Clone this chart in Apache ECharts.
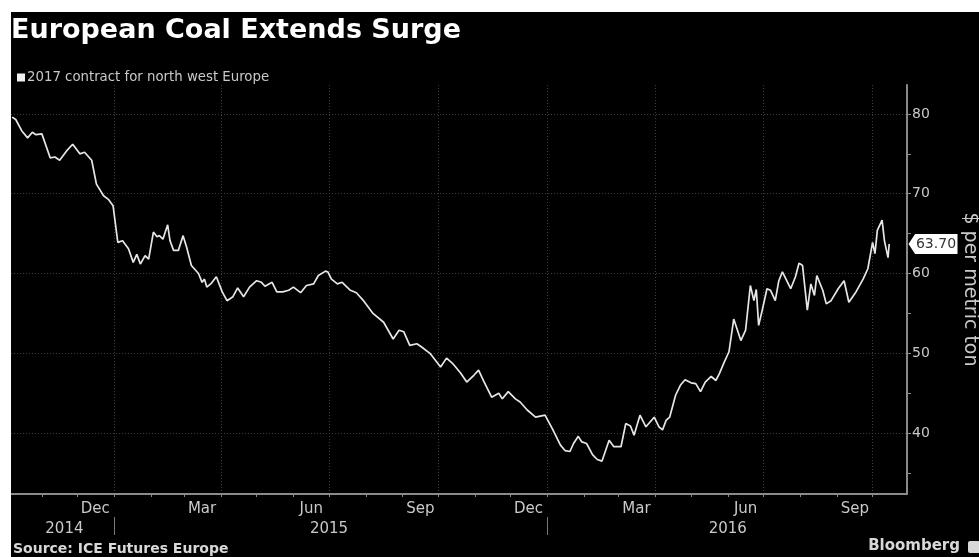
<!DOCTYPE html>
<html>
<head>
<meta charset="utf-8">
<script src="https://cdn.jsdelivr.net/npm/echarts@6/dist/echarts.min.js"></script>
<style>
html,body{margin:0;padding:0;background:#fff;}
#chart{width:979px;height:557px;}
</style>
</head>
<body>
<div id="chart"></div>
<script>
// ---------- DATA ----------
const seriesName = '2017 contract for north west Europe';
const dates = [
'2014-10-07','2014-10-10','2014-10-15','2014-10-20','2014-10-24','2014-10-27','2014-11-01','2014-11-08','2014-11-12','2014-11-16','2014-11-22','2014-11-27','2014-12-03','2014-12-07','2014-12-13','2014-12-17','2014-12-23','2014-12-27','2014-12-31',
'2015-01-04','2015-01-08','2015-01-13','2015-01-17','2015-01-20','2015-01-23','2015-01-27','2015-01-30',
'2015-02-03','2015-02-06','2015-02-08','2015-02-11','2015-02-15','2015-02-17','2015-02-20','2015-02-24','2015-02-28',
'2015-03-03','2015-03-07','2015-03-13','2015-03-16','2015-03-18','2015-03-20','2015-03-24','2015-03-28',
'2015-04-02','2015-04-06','2015-04-11','2015-04-15','2015-04-20','2015-04-25',
'2015-05-01','2015-05-05','2015-05-08','2015-05-14','2015-05-18','2015-05-23','2015-05-28',
'2015-06-01','2015-06-07','2015-06-12','2015-06-18','2015-06-22','2015-06-28','2015-06-30',
'2015-07-03','2015-07-08','2015-07-12','2015-07-19','2015-07-24','2015-07-30',
'2015-08-03','2015-08-07','2015-08-16','2015-08-24','2015-08-29',
'2015-09-02','2015-09-07','2015-09-13','2015-09-17','2015-09-24',
'2015-10-03','2015-10-08','2015-10-13','2015-10-20','2015-10-25','2015-10-31',
'2015-11-04','2015-11-08','2015-11-15','2015-11-21','2015-11-24','2015-11-29',
'2015-12-05','2015-12-09','2015-12-15','2015-12-22','2015-12-30',
'2016-01-05','2016-01-12','2016-01-16','2016-01-20','2016-01-23','2016-01-27','2016-01-30',
'2016-02-03','2016-02-08','2016-02-12','2016-02-16','2016-02-22','2016-02-26',
'2016-03-03','2016-03-07','2016-03-11','2016-03-14','2016-03-19','2016-03-24','2016-03-31',
'2016-04-04','2016-04-07','2016-04-10','2016-04-13','2016-04-18','2016-04-22','2016-04-26',
'2016-05-01','2016-05-05','2016-05-09','2016-05-13','2016-05-18','2016-05-22','2016-05-25','2016-05-29',
'2016-06-02','2016-06-06','2016-06-12','2016-06-16','2016-06-20','2016-06-23','2016-06-25','2016-06-27','2016-06-30',
'2016-07-04','2016-07-07','2016-07-11','2016-07-14','2016-07-17','2016-07-24','2016-07-28','2016-07-31',
'2016-08-03','2016-08-07','2016-08-10','2016-08-13','2016-08-15','2016-08-20','2016-08-23','2016-08-27',
'2016-09-02','2016-09-07','2016-09-11','2016-09-17','2016-09-23','2016-09-27',
'2016-10-01','2016-10-03','2016-10-05','2016-10-09','2016-10-11','2016-10-14','2016-10-15'
];
const prices = [
79.6,79.3,77.9,77.0,77.7,77.4,77.5,74.5,74.6,74.2,75.4,76.2,75.0,75.2,74.2,71.2,69.75,69.3,68.5,
63.9,64.1,63.1,61.4,62.4,61.2,62.25,61.8,
65.2,64.6,64.75,64.3,66.1,64.1,62.9,62.9,64.75,
63.3,61.0,60.0,58.9,59.3,58.3,58.8,59.6,
57.7,56.6,57.1,58.2,57.1,58.3,
59.1,58.9,58.4,58.9,57.7,57.7,57.9,
58.3,57.6,58.5,58.7,59.75,60.3,60.2,
59.3,58.7,58.9,57.9,57.6,56.6,
55.8,55.0,53.9,51.8,52.9,
52.7,51.0,51.2,50.8,50.0,
48.3,49.4,48.75,47.5,46.4,47.25,
47.9,46.6,44.5,45.0,44.3,45.2,
44.3,43.9,42.9,42.0,42.25,
40.6,38.5,37.8,37.7,38.7,39.6,38.9,
38.7,37.3,36.7,36.5,39.1,38.3,
38.3,41.2,40.9,39.75,42.25,40.8,42.0,
40.8,40.4,41.6,42.0,44.75,46.0,46.7,
46.3,46.2,45.2,46.4,47.1,46.6,47.5,48.9,
50.2,54.3,51.6,52.9,58.5,56.6,58.0,53.5,55.4,
58.1,57.9,56.6,59.1,60.2,58.1,59.6,61.3,
61.0,55.4,58.7,57.25,59.75,57.9,56.2,56.6,
58.1,59.1,56.4,57.7,59.3,60.6,
63.9,62.5,65.4,66.7,64.1,62.0,63.70
];
const lastPriceText = '63.70';

// axis range and ticks
const xMin = '2014-10-06';
const xMax = '2016-10-30';
const yMin = 32.375;
const yMax = 83.625;
const yLabelValues = [40, 50, 60, 70, 80];
const yTickValues = [35, 40, 45, 50, 55, 60, 65, 70, 75, 80];
const monthTickDates = ['2014-11-01','2014-12-01','2015-01-01','2015-02-01','2015-03-01','2015-04-01','2015-05-01','2015-06-01','2015-07-01','2015-08-01','2015-09-01','2015-10-01','2015-11-01','2015-12-01','2016-01-01','2016-02-01','2016-03-01','2016-04-01','2016-05-01','2016-06-01','2016-07-01','2016-08-01','2016-09-01','2016-10-01'];
const quarterGridDates = ['2015-01-01','2015-04-01','2015-07-01','2015-10-01','2016-01-01','2016-04-01','2016-07-01','2016-10-01'];
const monthLabelDates = ['2014-12-16','2015-03-16','2015-06-16','2015-09-16','2015-12-16','2016-03-16','2016-06-16','2016-09-16'];
const monthLabelTexts = ['Dec','Mar','Jun','Sep','Dec','Mar','Jun','Sep'];
const yearLabelDates = ['2014-11-20','2015-07-01','2016-06-01'];
const yearLabelTexts = ['2014','2015','2016'];
const yearSeparatorDates = ['2015-01-01','2016-01-01'];

const titleText = 'European Coal Extends Surge';
const yAxisTitle = '$ per metric ton';
const sourceText = 'Source: ICE Futures Europe';
const brandText = 'Bloomberg';

// ---------- CHART ----------
const FONT = 'DejaVu Sans';
const LABEL = '#c9c9c9';
const chart = echarts.init(document.getElementById('chart'), null, {renderer: 'canvas'});

const T = d => +echarts.time.parse(d);   // date string -> timestamp for the value scale
function lookup(datesArr, texts) {
  const ts = datesArr.map(T);
  return function (v) {
    let best = -1, bd = Infinity;
    ts.forEach((t, i) => { const dd = Math.abs(t - v); if (dd < bd) { bd = dd; best = i; } });
    return bd < 86400000 ? texts[best] : '';
  };
}

const seriesData = dates.map((d, i) => [T(d), prices[i]]);
const grid = {left: 11, right: 72, top: 85, bottom: 63, containLabel: false, outerBoundsMode: 'none'};
const xBase = {type: 'value', min: T(xMin), max: T(xMax), position: 'bottom', scale: true};

chart.setOption({
  animation: false,
  backgroundColor: '#000',
  title: {
    text: titleText, left: 11, top: 17, padding: 0,
    textStyle: {color: '#fff', fontFamily: FONT, fontWeight: 'bold', fontSize: 27}
  },
  legend: {
    data: [seriesName], left: 17, top: 71, padding: 0,
    icon: 'rect', itemWidth: 8, itemHeight: 8, itemGap: 0,
    textStyle: {color: LABEL, fontFamily: FONT, fontSize: 13.3, padding: [0, 0, 0, -3]}
  },
  grid: grid,
  xAxis: [
    Object.assign({}, xBase, {
      axisLine: {show: true, onZero: false, lineStyle: {color: '#8a8a8a', width: 2}},
      axisTick: {show: true, customValues: monthTickDates.map(T), length: 3, lineStyle: {color: '#8a8a8a'}},
      axisLabel: {show: true, customValues: monthLabelDates.map(T), formatter: lookup(monthLabelDates, monthLabelTexts),
        color: LABEL, fontFamily: FONT, fontSize: 15, margin: 8},
      splitLine: {show: false}
    }),
    Object.assign({}, xBase, {
      axisLine: {show: false, onZero: false}, axisLabel: {show: false},
      axisTick: {show: false, customValues: quarterGridDates.map(T)},
      splitLine: {show: true, lineStyle: {color: '#3a3a3a', type: [1, 2], width: 1}}
    }),
    Object.assign({}, xBase, {
      offset: 23,
      axisLine: {show: false, onZero: false},
      axisTick: {show: true, customValues: yearSeparatorDates.map(T), length: 18, lineStyle: {color: '#777'}},
      axisLabel: {show: true, customValues: yearLabelDates.map(T), formatter: lookup(yearLabelDates, yearLabelTexts),
        color: LABEL, fontFamily: FONT, fontSize: 15, margin: 5},
      splitLine: {show: false}
    })
  ],
  yAxis: [
    {
      type: 'value', position: 'right', min: yMin, max: yMax,
      name: yAxisTitle, nameLocation: 'middle', nameRotate: -90, nameGap: 53,
      nameTextStyle: {color: LABEL, fontFamily: FONT, fontSize: 19},
      axisLine: {show: true, onZero: false, lineStyle: {color: '#8a8a8a', width: 2}},
      axisTick: {show: true, customValues: yTickValues, inside: false, length: 4, lineStyle: {color: '#8a8a8a'}},
      axisLabel: {show: true, customValues: yLabelValues, color: LABEL, fontFamily: FONT, fontSize: 14, margin: 5},
      splitLine: {show: false}
    },
    {
      type: 'value', position: 'right', min: yMin, max: yMax,
      axisLine: {show: false, onZero: false}, axisLabel: {show: false},
      axisTick: {show: false, customValues: yLabelValues},
      splitLine: {show: true, lineStyle: {color: '#3a3a3a', type: [1, 2], width: 1}}
    }
  ],
  series: [{
    name: seriesName, type: 'line', xAxisIndex: 0, yAxisIndex: 0,
    data: seriesData, showSymbol: false, smooth: false,
    color: '#f0f0f0',
    lineStyle: {color: '#e6e6e6', width: 1.7},
    markPoint: {
      silent: true,
      symbol: 'path://M0,10 L7,0 L52,0 L52,20 L7,20 Z',
      symbolSize: [49, 20], symbolOffset: [26, 0],
      itemStyle: {color: '#fff'},
      label: {show: true, position: 'inside', formatter: lastPriceText, color: '#333', fontFamily: FONT, fontSize: 14, offset: [3, 0]},
      data: [{coord: [T(xMax), prices[prices.length - 1]]}]
    }
  }],
  graphic: [
    {type: 'rect', left: 0, top: 0, shape: {width: 979, height: 12}, style: {fill: '#fff'}, z: 100},
    {type: 'rect', left: 0, top: 0, shape: {width: 11, height: 557}, style: {fill: '#fff'}, z: 100},
    {type: 'text', left: 13, top: 542, style: {text: sourceText, fill: '#d8d8d8', font: 'bold 14px "DejaVu Sans"'}},
    {type: 'text', right: 19, top: 539, style: {text: brandText, fill: '#d8d8d8', font: 'bold 15px "DejaVu Sans"'}},
    {type: 'rect', left: 968, top: 541, shape: {width: 12, height: 12, r: 2}, style: {fill: '#d8d8d8'}}
  ]
});
</script>
</body>
</html>
